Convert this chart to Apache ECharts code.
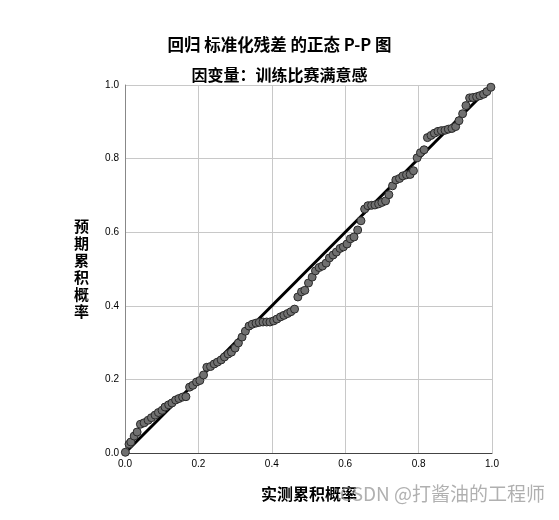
<!DOCTYPE html>
<html><head><meta charset="utf-8">
<script src="https://cdn.jsdelivr.net/npm/echarts@6/dist/echarts.min.js"></script>
<style>html,body{margin:0;padding:0;background:#fff;}#c{width:559px;height:520px;}</style>
</head><body><div id="c"></div>
<script>
var titleText = '回归 标准化残差 的正态 P-P 图';
var subtitleText = '因变量：训练比赛满意感';
var xAxisName = '实测累积概率';
var yAxisName = '预期累积概率';
var watermark = 'CSDN @打酱油的工程师';
var tickValues = [0, 0.2, 0.4, 0.6, 0.8, 1.0];
var refLine = [[0, 0], [1, 1]];
var observedCum = [0.001,0.011,0.016,0.025,0.033,0.042,0.052,0.063,0.072,0.082,0.091,0.101,0.109,0.119,0.128,0.138,0.147,0.157,0.166,0.176,0.185,0.195,0.204,0.214,0.223,0.233,0.243,0.252,0.262,0.271,0.281,0.290,0.300,0.309,0.319,0.328,0.338,0.347,0.357,0.366,0.376,0.386,0.395,0.405,0.414,0.424,0.433,0.443,0.452,0.462,0.471,0.481,0.490,0.500,0.510,0.519,0.529,0.538,0.548,0.557,0.567,0.576,0.586,0.595,0.605,0.614,0.624,0.634,0.643,0.653,0.662,0.672,0.681,0.691,0.700,0.710,0.719,0.729,0.738,0.748,0.757,0.767,0.777,0.786,0.796,0.805,0.815,0.824,0.834,0.843,0.853,0.862,0.872,0.881,0.891,0.901,0.910,0.920,0.929,0.939,0.948,0.958,0.967,0.977,0.986,0.997];
var expectedCum = [0.002,0.024,0.030,0.046,0.057,0.078,0.082,0.089,0.096,0.103,0.110,0.116,0.125,0.131,0.136,0.144,0.148,0.152,0.153,0.179,0.184,0.193,0.197,0.212,0.233,0.235,0.242,0.247,0.253,0.261,0.269,0.274,0.285,0.299,0.315,0.331,0.345,0.350,0.353,0.355,0.356,0.356,0.356,0.359,0.364,0.370,0.374,0.379,0.384,0.391,0.424,0.438,0.442,0.462,0.478,0.495,0.504,0.508,0.516,0.530,0.538,0.546,0.556,0.560,0.568,0.582,0.587,0.606,0.631,0.663,0.672,0.673,0.674,0.677,0.681,0.685,0.702,0.726,0.742,0.746,0.753,0.756,0.757,0.767,0.802,0.816,0.824,0.857,0.863,0.869,0.874,0.876,0.877,0.880,0.882,0.887,0.903,0.922,0.944,0.965,0.966,0.968,0.971,0.975,0.982,0.994];

var points = observedCum.map(function (x, i) { return [x, expectedCum[i]]; });
var cjk = '"Noto Sans CJK SC", "Microsoft YaHei", sans-serif';
var chart = echarts.init(document.getElementById('c'));
var axisCommon = {
  type: 'value', min: 0, max: 1, interval: 0.2,
  axisLabel: { formatter: function (v) { return v.toFixed(1); }, color: '#000', fontSize: 10, fontFamily: 'Arial, "Liberation Sans", sans-serif' },
  axisTick: { show: false },
  splitLine: { show: true, lineStyle: { color: '#c8c8c8', width: 1 } }
};
chart.setOption({
  animation: false,
  backgroundColor: '#fff',
  title: [
    { text: titleText, left: 'center', top: 31, textStyle: { fontSize: 16.5, fontWeight: 'bold', color: '#000', fontFamily: cjk } },
    { text: subtitleText, left: 'center', top: 62, textStyle: { fontSize: 16, fontWeight: 'bold', color: '#000', fontFamily: cjk } }
  ],
  grid: { left: 125, right: 67, top: 85, bottom: 67, containLabel: false },
  xAxis: Object.assign({}, axisCommon, {
    axisLine: { show: true, lineStyle: { color: '#444', width: 1 } },
    axisLabel: Object.assign({}, axisCommon.axisLabel, { margin: 6 })
  }),
  yAxis: Object.assign({}, axisCommon, {
    axisLine: { show: true, lineStyle: { color: '#888', width: 1 } },
    axisLabel: Object.assign({}, axisCommon.axisLabel, { margin: 6 })
  }),
  graphic: [
    { type: 'text', left: 261, top: 486, style: { text: xAxisName, font: 'bold 16px ' + cjk, fill: '#000' } },
    { type: 'text', left: 74, top: 218, style: { text: yAxisName.split('').join('\n'), font: 'bold 15px ' + cjk, fill: '#000', lineHeight: 17 } },
    { type: 'text', right: 14, top: 484, style: { text: watermark, font: '19px ' + cjk, fill: 'rgba(150,150,150,0.75)' } }
  ],
  series: [
    {
      type: 'line', data: refLine, symbol: 'none', silent: true,
      lineStyle: { color: '#000', width: 3 }, z: 3
    },
    {
      type: 'scatter', data: points, symbol: 'circle', symbolSize: 8,
      itemStyle: { color: '#707070', borderColor: '#2a2a2a', borderWidth: 1, opacity: 1 }, z: 4
    }
  ]
});
</script>
</body></html>
